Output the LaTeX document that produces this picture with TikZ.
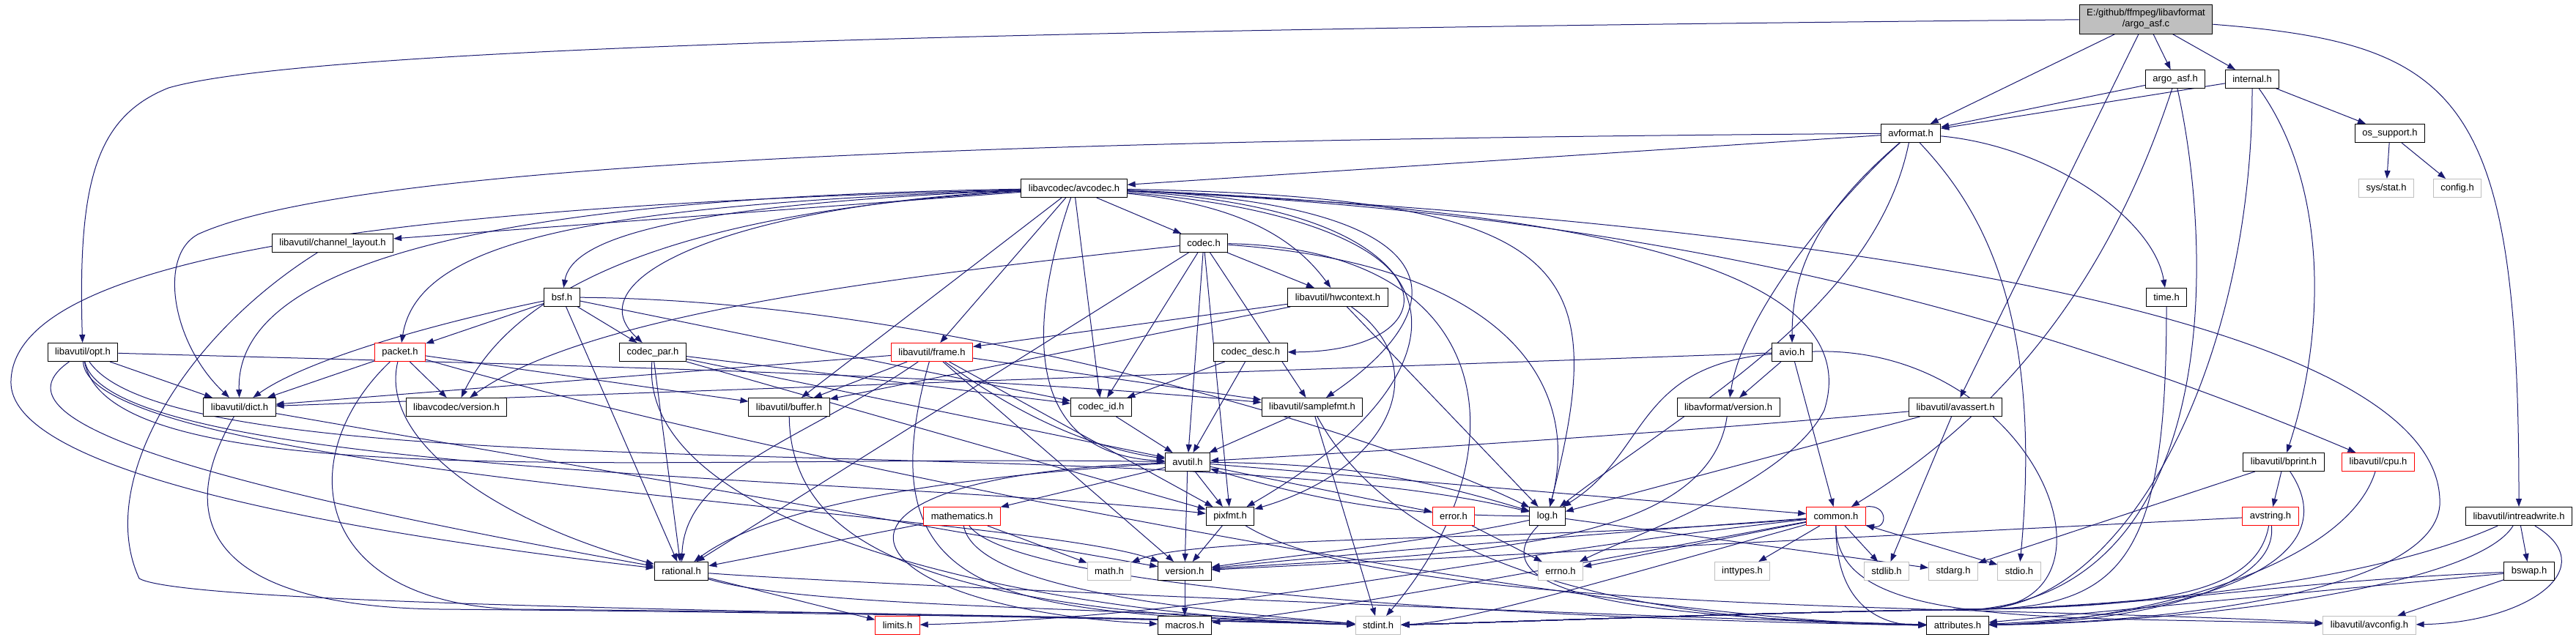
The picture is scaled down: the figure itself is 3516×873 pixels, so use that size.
\documentclass[tikz,border=0pt]{standalone}
\usepackage{fontspec}
\setmainfont{Liberation Sans}
\usetikzlibrary{arrows.meta,backgrounds}
\definecolor{edgeblue}{HTML}{191970}
\definecolor{sysgray}{HTML}{BFBFBF}
\tikzset{>={Triangle[length=11pt,width=8pt]},every node/.style={font=\fontsize{13}{15}\selectfont},
  box/.style={draw=black,line width=1pt,fill=white,inner xsep=10pt,inner ysep=2pt,minimum height=25pt},
  sys/.style={box,draw=sysgray},cut/.style={box,draw=red},
  dep/.style={draw=edgeblue,line width=1pt,->}}

\begin{document}
\begin{tikzpicture}[x=1pt,y=-1pt]
\useasboundingbox (0,0) rectangle (3516,873);
\node[box,fill=sysgray,align=center,minimum height=40pt] (root) at (2929,26) {E:/github/ffmpeg/libavformat\\/argo\_asf.c};
\node[box] (argoh) at (2969,108) {argo\_asf.h};
\node[box] (internal) at (3074,108) {internal.h};
\node[box] (ossup) at (3262,182) {os\_support.h};
\node[sys] (sysstat) at (3257,257) {sys/stat.h};
\node[sys] (config) at (3354,257) {config.h};
\node[box] (avformat) at (2608,182) {avformat.h};
\node[box] (avcodec) at (1466,257) {libavcodec/avcodec.h};
\node[box] (codec) at (1643,332) {codec.h};
\node[box] (chlayout) at (454,332) {libavutil/channel\_layout.h};
\node[box] (bsf) at (767,406) {bsf.h};
\node[box] (hwctx) at (1826,406) {libavutil/hwcontext.h};
\node[box] (timeh) at (2957,406) {time.h};
\node[box] (opt) at (113,481) {libavutil/opt.h};
\node[cut] (packet) at (546,481) {packet.h};
\node[box] (codecpar) at (891,481) {codec\_par.h};
\node[cut] (frame) at (1272,481) {libavutil/frame.h};
\node[box] (codecdesc) at (1707,481) {codec\_desc.h};
\node[box] (avio) at (2446,481) {avio.h};
\node[box] (dict) at (327,556) {libavutil/dict.h};
\node[box] (lavcver) at (623,556) {libavcodec/version.h};
\node[box] (buffer) at (1077,556) {libavutil/buffer.h};
\node[box] (codecid) at (1503,556) {codec\_id.h};
\node[box] (samplefmt) at (1791,556) {libavutil/samplefmt.h};
\node[box] (lavfver) at (2359,556) {libavformat/version.h};
\node[box] (avassert) at (2669,556) {libavutil/avassert.h};
\node[box] (avutil) at (1621,631) {avutil.h};
\node[box] (bprint) at (3117,631) {libavutil/bprint.h};
\node[cut] (cpu) at (3246,631) {libavutil/cpu.h};
\node[cut] (mathem) at (1313,705) {mathematics.h};
\node[box] (pixfmt) at (1679,705) {pixfmt.h};
\node[cut] (error) at (1984,705) {error.h};
\node[box] (log) at (2112,705) {log.h};
\node[cut] (common) at (2506,705) {common.h};
\node[cut] (avstring) at (3099,705) {avstring.h};
\node[box] (intrw) at (3438,705) {libavutil/intreadwrite.h};
\node[box] (rational) at (930,780) {rational.h};
\node[sys] (math) at (1514,780) {math.h};
\node[box] (version) at (1617,780) {version.h};
\node[sys] (errno) at (2130,780) {errno.h};
\node[sys] (inttypes) at (2378,780) {inttypes.h};
\node[sys] (stdlib) at (2575,780) {stdlib.h};
\node[sys] (stdarg) at (2666,780) {stdarg.h};
\node[sys] (stdio) at (2756,780) {stdio.h};
\node[box] (bswap) at (3452,780) {bswap.h};
\node[cut] (limits) at (1225,854) {limits.h};
\node[box] (macros) at (1617,854) {macros.h};
\node[sys] (stdint) at (1881,854) {stdint.h};
\node[box] (attrib) at (2672,854) {attributes.h};
\node[sys] (avconfig) at (3234,854) {libavutil/avconfig.h};
\begin{scope}[on background layer]
\fill[white] (0,0) rectangle (3516,873);
\draw[dep] (root) -- (argoh);
\draw[dep] (root) -- (internal);
\draw[dep] (root) -- (avformat);
\draw[dep] (root) -- (avassert);
\draw[dep] (root) .. controls (3360,60) and (3438,130) .. (intrw);
\draw[dep] (root) .. controls (1400,40) and (420,65) .. (230,120) .. controls (130,160) and (106,250) .. (opt);
\draw[dep] (argoh) -- (avformat);
\draw[dep] (argoh) .. controls (2880,380) and (2740,560) .. (common);
\draw[dep] (argoh) .. controls (3023,350) and (3030,800) .. (2700,832) .. controls (2400,836) and (2050,850) .. (stdint);
\draw[dep] (internal) -- (avformat);
\draw[dep] (internal) -- (ossup);
\draw[dep] (internal) .. controls (3176,250) and (3176,450) .. (bprint);
\draw[dep] (internal) .. controls (3074,500) and (2900,830) .. (2700,832) .. controls (2400,836) and (2050,850) .. (stdint);
\draw[dep] (ossup) -- (sysstat);
\draw[dep] (ossup) -- (config);
\draw[dep] (timeh) .. controls (2957,760) and (2900,830) .. (2700,832) .. controls (2400,836) and (2050,850) .. (stdint);
\draw[dep] (avformat) .. controls (2800,200) and (2940,300) .. (timeh);
\draw[dep] (avformat) .. controls (2700,280) and (2790,420) .. (stdio);
\draw[dep] (avformat) -- (avcodec);
\draw[dep] (avformat) .. controls (1500,190) and (500,215) .. (270,320) .. controls (215,350) and (235,470) .. (dict);
\draw[dep] (avformat) .. controls (2560,420) and (2300,560) .. (log);
\draw[dep] (avformat) .. controls (2470,300) and (2446,380) .. (avio);
\draw[dep] (avformat) .. controls (2520,260) and (2380,420) .. (lavfver);
\draw[dep] (avio) -- (dict);
\draw[dep] (avio) .. controls (2230,500) and (2250,620) .. (log);
\draw[dep] (avio) -- (lavfver);
\draw[dep] (avio) -- (common);
\draw[dep] (avio) .. controls (2780,470) and (2920,830) .. (2700,832) .. controls (2400,836) and (2050,850) .. (stdint);
\draw[dep] (avcodec) .. controls (2300,290) and (2540,400) .. (2490,560) .. controls (2440,660) and (2230,730) .. (errno);
\draw[dep] (avcodec) .. controls (2000,280) and (1990,420) .. (samplefmt);
\draw[dep] (avcodec) .. controls (2400,300) and (3340,420) .. (3330,690) .. controls (3320,810) and (2950,850) .. (attrib);
\draw[dep] (avcodec) .. controls (1400,450) and (1400,620) .. (avutil);
\draw[dep] (avcodec) -- (codecid);
\draw[dep] (avcodec) -- (buffer);
\draw[dep] (avcodec) .. controls (2200,290) and (2700,400) .. (cpu);
\draw[dep] (avcodec) -- (chlayout);
\draw[dep] (avcodec) .. controls (800,268) and (320,330) .. (dict);
\draw[dep] (avcodec) -- (frame);
\draw[dep] (avcodec) .. controls (1700,280) and (1770,330) .. (hwctx);
\draw[dep] (avcodec) .. controls (2150,270) and (2200,360) .. (log);
\draw[dep] (avcodec) .. controls (2050,290) and (2000,520) .. (pixfmt);
\draw[dep] (avcodec) .. controls (600,280) and (20,340) .. (15,520) .. controls (10,650) and (500,730) .. (rational);
\draw[dep] (avcodec) .. controls (900,280) and (780,330) .. (bsf);
\draw[dep] (avcodec) -- (codec);
\draw[dep] (avcodec) .. controls (2000,300) and (1990,480) .. (codecdesc);
\draw[dep] (avcodec) .. controls (1000,280) and (780,380) .. (codecpar);
\draw[dep] (avcodec) .. controls (800,280) and (570,330) .. (packet);
\draw[dep] (avcodec) .. controls (900,290) and (700,400) .. (lavcver);
\draw[dep] (codec) .. controls (2050,340) and (2080,620) .. (stdint);
\draw[dep] (codec) -- (avutil);
\draw[dep] (codec) -- (hwctx);
\draw[dep] (codec) .. controls (2050,360) and (2160,520) .. (log);
\draw[dep] (codec) -- (pixfmt);
\draw[dep] (codec) -- (rational);
\draw[dep] (codec) -- (samplefmt);
\draw[dep] (codec) -- (codecid);
\draw[dep] (codec) .. controls (1200,380) and (800,430) .. (lavcver);
\draw[dep] (bsf) .. controls (600,440) and (420,490) .. (dict);
\draw[dep] (bsf) .. controls (1300,410) and (1900,600) .. (log);
\draw[dep] (bsf) -- (rational);
\draw[dep] (bsf) -- (codecid);
\draw[dep] (bsf) -- (codecpar);
\draw[dep] (bsf) -- (packet);
\draw[dep] (codecpar) .. controls (870,720) and (1400,838) .. (stdint);
\draw[dep] (codecpar) -- (avutil);
\draw[dep] (codecpar) -- (rational);
\draw[dep] (codecpar) -- (pixfmt);
\draw[dep] (codecpar) -- (codecid);
\draw[dep] (packet) .. controls (400,620) and (420,820) .. (700,832) .. controls (1200,836) and (1650,846) .. (stdint);
\draw[dep] (packet) .. controls (1100,640) and (2200,850) .. (attrib);
\draw[dep] (packet) -- (buffer);
\draw[dep] (packet) -- (dict);
\draw[dep] (packet) .. controls (515,610) and (700,720) .. (rational);
\draw[dep] (packet) -- (lavcver);
\draw[dep] (codecdesc) -- (avutil);
\draw[dep] (codecdesc) -- (codecid);
\draw[dep] (codecid) -- (avutil);
\draw[dep] (frame) .. controls (1170,840) and (1400,835) .. (stdint);
\draw[dep] (frame) .. controls (1380,560) and (1480,610) .. (avutil);
\draw[dep] (frame) -- (buffer);
\draw[dep] (frame) -- (dict);
\draw[dep] (frame) .. controls (1100,600) and (935,640) .. (rational);
\draw[dep] (frame) -- (samplefmt);
\draw[dep] (frame) -- (pixfmt);
\draw[dep] (frame) -- (version);
\draw[dep] (hwctx) -- (buffer);
\draw[dep] (hwctx) -- (frame);
\draw[dep] (hwctx) -- (log);
\draw[dep] (hwctx) .. controls (1960,500) and (1900,640) .. (pixfmt);
\draw[dep] (samplefmt) -- (stdint);
\draw[dep] (samplefmt) -- (avutil);
\draw[dep] (samplefmt) .. controls (1880,720) and (2100,850) .. (attrib);
\draw[dep] (chlayout) .. controls (250,460) and (130,660) .. (190,790) .. controls (260,830) and (1300,836) .. (stdint);
\draw[dep] (dict) .. controls (230,720) and (300,828) .. (600,832) .. controls (1100,836) and (1600,846) .. (stdint);
\draw[dep] (dict) -- (version);
\draw[dep] (buffer) .. controls (1080,760) and (1300,835) .. (stdint);
\draw[dep] (opt) .. controls (0,560) and (150,640) .. (rational);
\draw[dep] (opt) .. controls (150,680) and (900,620) .. (avutil);
\draw[dep] (opt) -- (dict);
\draw[dep] (opt) .. controls (250,680) and (1600,580) .. (log);
\draw[dep] (opt) .. controls (150,650) and (1200,650) .. (pixfmt);
\draw[dep] (opt) .. controls (800,500) and (1300,510) .. (samplefmt);
\draw[dep] (opt) .. controls (120,650) and (1400,700) .. (version);
\draw[dep] (avutil) -- (common);
\draw[dep] (avutil) -- (error);
\draw[dep] (avutil) .. controls (1300,650) and (1050,690) .. (rational);
\draw[dep] (avutil) -- (version);
\draw[dep] (avutil) .. controls (1050,650) and (1150,830) .. (macros);
\draw[dep] (avutil) -- (mathem);
\draw[dep] (avutil) to[bend left=8] (log);
\draw[dep] (avutil) -- (pixfmt);
\draw[dep] (common) -- (errno);
\draw[dep] (common) -- (inttypes);
\draw[dep] (common) .. controls (2000,760) and (1700,840) .. (limits);
\draw[dep] (common) .. controls (2100,740) and (1640,730) .. (math);
\draw[dep] (common) .. controls (2200,790) and (2000,850) .. (stdint);
\draw[dep,<->] (common) -- (stdio);
\draw[dep] (common) -- (stdlib);
\draw[dep] (common) .. controls (2505,820) and (2560,854) .. (attrib);
\draw[dep] (common) .. controls (2100,780) and (1800,835) .. (macros);
\draw[dep] (common) .. controls (2100,735) and (1800,760) .. (version);
\draw[dep] (common) .. controls (2505,860) and (2800,840) .. (avconfig);
\draw[dep] (common.north east) .. controls +(30,-4) and +(30,4) .. (common.south east);
\draw[dep] (mathem) .. controls (1330,800) and (1600,832) .. (stdint);
\draw[dep] (mathem) -- (math);
\draw[dep] (mathem) .. controls (1400,820) and (2300,850) .. (attrib);
\draw[dep] (mathem) -- (rational);
\draw[dep] (rational) .. controls (1100,830) and (1500,828) .. (stdint);
\draw[dep] (rational) -- (limits);
\draw[dep] (rational) .. controls (1200,800) and (2300,845) .. (attrib);
\draw[dep] (error) -- (errno);
\draw[dep] (log) -- (stdarg);
\draw[dep] (log) to[bend left=8] (avutil);
\draw[dep] (log) .. controls (2000,820) and (2300,845) .. (attrib);
\draw[dep] (log) .. controls (1950,740) and (1750,760) .. (version);
\draw[dep] (pixfmt) .. controls (1900,840) and (2700,825) .. (avconfig);
\draw[dep] (pixfmt) -- (version);
\draw[dep] (version) -- (macros);
\draw[dep] (lavfver) .. controls (2330,760) and (1950,755) .. (version);
\draw[dep] (avassert) -- (stdlib);
\draw[dep] (avassert) .. controls (2300,590) and (1900,615) .. (avutil);
\draw[dep] (avassert) -- (log);
\draw[dep] (cpu) .. controls (3200,780) and (2900,850) .. (attrib);
\draw[dep] (bprint) -- (stdarg);
\draw[dep] (bprint) .. controls (3210,770) and (3000,840) .. (attrib);
\draw[dep] (bprint) -- (avstring);
\draw[dep] (avstring) .. controls (3080,810) and (2950,828) .. (2700,832) .. controls (2400,836) and (2050,850) .. (stdint);
\draw[dep] (avstring) .. controls (3110,810) and (2900,850) .. (attrib);
\draw[dep] (avstring) -- (version);
\draw[dep] (intrw) .. controls (3250,790) and (2950,826) .. (2700,832) .. controls (2400,836) and (2050,850) .. (stdint);
\draw[dep] (intrw) .. controls (3555,775) and (3450,850) .. (avconfig);
\draw[dep] (intrw) .. controls (3380,800) and (3000,850) .. (attrib);
\draw[dep] (intrw) -- (bswap);
\draw[dep] (bswap) .. controls (3100,795) and (2950,828) .. (2700,832) .. controls (2400,836) and (2050,850) .. (stdint);
\draw[dep] (bswap) -- (attrib);
\draw[dep] (bswap) -- (avconfig);
\end{scope}
\end{tikzpicture}
\end{document}
